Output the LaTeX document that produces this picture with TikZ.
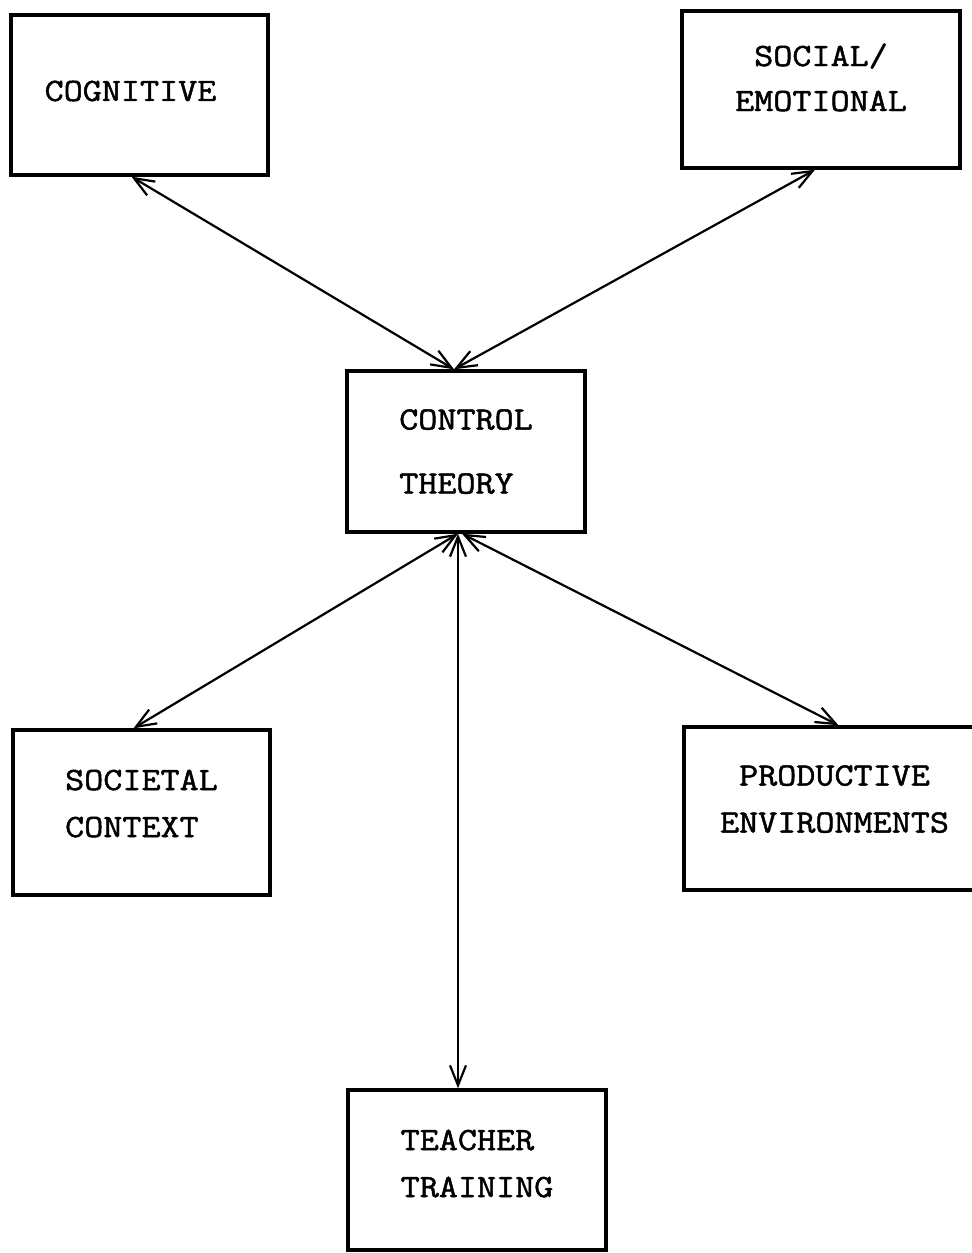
\documentclass[tikz,border=0pt]{standalone}
\usepackage{fontspec}
\setmonofont[FakeStretch=1.14,FakeBold=1.5]{Latin Modern Mono}
\usetikzlibrary{arrows.meta}
\begin{document}
\begin{tikzpicture}[x=0.5pt,y=-0.5pt,
  box/.style={draw,line width=1.7pt,rectangle,inner sep=0pt,
    font=\ttfamily\fontsize{16.25}{25}\selectfont},
  link/.style={line width=1.1pt,
    {Straight Barb[length=10pt,width=8pt]}-{Straight Barb[length=10pt,width=8pt]}}]
\clip (0,0) rectangle (972,1253);
% boxes
\node[box,minimum width=128.5pt,minimum height=80pt] (cog) at (139.5,95)
  {\raisebox{2pt}[\height][\depth]{COGNITIVE}\hspace{9pt}\null};
\node[box,minimum width=139pt,minimum height=78.5pt] (soc) at (821,89.5)
  {\raisebox{5.5pt}[\height][\depth]{\begin{tabular}{@{}c@{}}SOCIAL/\\[-2.5pt]EMOTIONAL\end{tabular}}};
\node[box,minimum width=119pt,minimum height=80.5pt] (ctl) at (466,451.5)
  {\begin{tabular}{@{}l@{}}CONTROL\\[7pt]THEORY\end{tabular}};
\node[box,minimum width=128.5pt,minimum height=82.5pt] (sct) at (141.5,812.5)
  {\raisebox{4.5pt}[\height][\depth]{\begin{tabular}{@{}l@{}}SOCIETAL\\[-1.5pt]CONTEXT\end{tabular}}};
\node[box,minimum width=150.5pt,minimum height=81.5pt] (prd) at (834.5,808.5)
  {\raisebox{4.75pt}[\height][\depth]{\begin{tabular}{@{}c@{}}PRODUCTIVE\\[-1.5pt]ENVIRONMENTS\end{tabular}}};
\node[box,minimum width=129pt,minimum height=80pt] (tch) at (477,1170)
  {\raisebox{3.25pt}[\height][\depth]{\begin{tabular}{@{}l@{}}TEACHER\\[-1.5pt]TRAINING\end{tabular}}};
% connectors
\draw[link] ([xshift=-4pt]cog.south) -- ([xshift=-6pt]ctl.north);
\draw[link] ([xshift=-3pt]soc.south) -- ([xshift=-6pt]ctl.north);
\draw[link] ([xshift=-4pt]ctl.south) -- ([xshift=-4pt]sct.north);
\draw[link] ([xshift=-4pt]ctl.south) -- ([xshift=-9.5pt]tch.north);
\draw[link] ([xshift=-2pt]ctl.south) -- ([xshift=2pt]prd.north);
\end{tikzpicture}
\end{document}
